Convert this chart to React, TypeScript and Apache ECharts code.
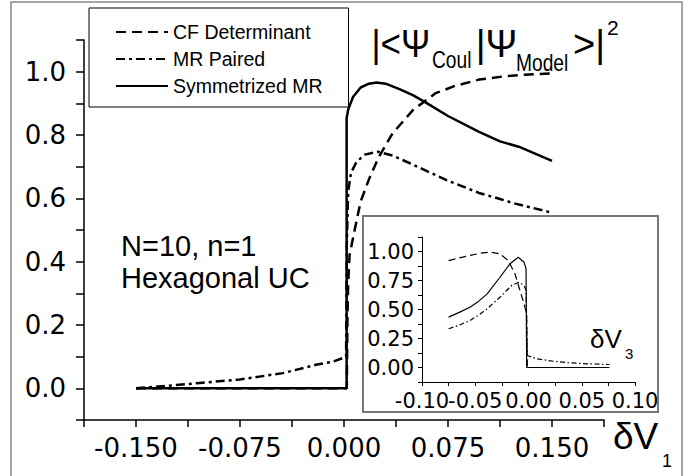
import React, { useEffect, useRef } from "react";
import * as echarts from "echarts";

// Main panel data: [deltaV1, overlap]
const mainCF: number[][] = [
  [-0.15, 0], [0.002, 0], [0.0025, 0.22], [0.003, 0.33], [0.004, 0.42], [0.0072, 0.49],
  [0.012, 0.59], [0.018, 0.66], [0.025, 0.73], [0.035, 0.805], [0.05, 0.88], [0.066, 0.932],
  [0.08, 0.955], [0.0975, 0.975], [0.115, 0.985], [0.13, 0.99], [0.15, 0.995],
];
const mainMR: number[][] = [
  [-0.15, 0], [-0.13, 0.007], [-0.104, 0.017], [-0.075, 0.028], [-0.044, 0.048],
  [-0.0195, 0.075], [-0.0079, 0.084], [-0.0007, 0.096], [0.0015, 0.1], [0.002, 0.45],
  [0.003, 0.62], [0.005, 0.68], [0.009, 0.715], [0.015, 0.738], [0.0245, 0.747],
  [0.035, 0.735], [0.05, 0.706], [0.0736, 0.658], [0.0974, 0.617], [0.1125, 0.598],
  [0.122, 0.585], [0.147, 0.558], [0.15, 0.555],
];
const mainSym: number[][] = [
  [-0.15, 0], [0.0019, 0], [0.0019, 0.854], [0.003, 0.88], [0.0065, 0.92], [0.012, 0.95],
  [0.018, 0.962], [0.0236, 0.966], [0.03, 0.962], [0.04, 0.945], [0.05, 0.925], [0.06, 0.9],
  [0.075, 0.86], [0.0974, 0.81], [0.1125, 0.78], [0.126, 0.763], [0.15, 0.718],
];

// Inset data: [deltaV3, overlap]
const insetCF: number[][] = [
  [-0.075, 0.922], [-0.065, 0.945], [-0.055, 0.966], [-0.045, 0.985], [-0.036, 0.994],
  [-0.027, 0.98], [-0.019, 0.922], [-0.0127, 0.808], [-0.008, 0.664], [-0.0042, 0.549],
  [-0.0017, 0.463], [-0.0011, 0], [0.075, 0],
];
const insetSym: number[][] = [
  [-0.075, 0.434], [-0.065, 0.475], [-0.055, 0.52], [-0.047, 0.57], [-0.0388, 0.635],
  [-0.0268, 0.778], [-0.0174, 0.894], [-0.0096, 0.951], [-0.0042, 0.908], [-0.0023, 0.851],
  [-0.0017, 0], [0.076, 0],
];
const insetMR: number[][] = [
  [-0.075, 0.334], [-0.065, 0.365], [-0.055, 0.405], [-0.047, 0.45], [-0.0388, 0.506],
  [-0.0268, 0.606], [-0.0158, 0.707], [-0.0089, 0.735], [-0.0042, 0.707], [-0.0023, 0.664],
  [-0.0011, 0.103], [0.0077, 0.075], [0.0233, 0.054], [0.039, 0.04], [0.0547, 0.032],
  [0.076, 0.026],
];

const seriesNames = ["CF Determinant", "MR Paired", "Symmetrized MR"];
const mainXTicks = [-0.15, -0.075, 0, 0.075, 0.15];
const mainYTicks = [0, 0.2, 0.4, 0.6, 0.8, 1.0];
const insetXTicks = [-0.1, -0.05, 0, 0.05, 0.1];
const insetYTicks = [0, 0.25, 0.5, 0.75, 1.0];

const near = (list: number[], v: number) => list.some((t) => Math.abs(t - v) < 1e-6);

const TXT = "Liberation Sans";
const AXF = "DejaVu Sans";

function label(text: string, x: number, y: number, size: number, scaleX = 1) {
  return {
    type: "text",
    x,
    y,
    scaleX,
    silent: true,
    style: { text, fontFamily: TXT, fontSize: size, fill: "#000", verticalAlign: "middle", align: "left" },
  };
}

export default function App() {
  const ref = useRef<HTMLDivElement>(null);
  useEffect(() => {
    if (!ref.current) return;
    const chart = echarts.init(ref.current, undefined, { renderer: "svg" });
    const mainAxisCommon = {
      axisLine: { show: true, onZero: false, lineStyle: { color: "#000", width: 1.5 } },
      splitLine: { show: false },
    };
    const insetAxisCommon = {
      axisLine: { show: true, onZero: false, lineStyle: { color: "#000", width: 1 } },
      splitLine: { show: false },
    };
    const option: any = {
      animation: false,
      backgroundColor: "#fff",
      color: ["#000", "#000", "#000", "#000", "#000", "#000"],
      grid: [
        { left: 84, top: 40, width: 520, height: 380 },
        { left: 422, top: 237, width: 213, height: 145 },
      ],
      xAxis: [
        {
          type: "value", gridIndex: 0, min: -0.1875, max: 0.1875, interval: 0.0375,
          ...mainAxisCommon,
          axisTick: { show: true, length: 7, lineStyle: { color: "#000", width: 1.5 } },
          axisLabel: {
            margin: 15, color: "#000", fontFamily: AXF, fontSize: 26,
            formatter: (v: number) => (near(mainXTicks, v) ? (Math.abs(v) < 1e-9 ? "0.000" : v.toFixed(3)) : ""),
          },
        },
        {
          type: "value", gridIndex: 1, min: -0.1, max: 0.1, interval: 0.025,
          ...insetAxisCommon,
          axisTick: { show: true, length: 4, lineStyle: { color: "#000", width: 1 } },
          axisLabel: {
            margin: 8, color: "#000", fontFamily: AXF, fontSize: 21,
            formatter: (v: number) => (near(insetXTicks, v) ? (Math.abs(v) < 1e-9 ? "0.00" : v.toFixed(2)) : ""),
          },
        },
      ],
      yAxis: [
        {
          type: "value", gridIndex: 0, min: -0.1, max: 1.1, interval: 0.1,
          ...mainAxisCommon,
          axisTick: { show: true, length: 8, lineStyle: { color: "#000", width: 1.5 } },
          axisLabel: {
            margin: 18, color: "#000", fontFamily: AXF, fontSize: 26,
            formatter: (v: number) => (near(mainYTicks, v) ? (Math.abs(v) < 1e-9 ? "0.0" : v.toFixed(1)) : ""),
          },
        },
        {
          type: "value", gridIndex: 1, min: -0.125, max: 1.125, interval: 0.125,
          ...insetAxisCommon,
          axisTick: { show: true, length: 4, lineStyle: { color: "#000", width: 1 } },
          axisLabel: {
            margin: 8, color: "#000", fontFamily: AXF, fontSize: 21,
            formatter: (v: number) => (near(insetYTicks, v) ? (Math.abs(v) < 1e-9 ? "0.00" : v.toFixed(2)) : ""),
          },
        },
      ],
      legend: {
        data: seriesNames,
        orient: "vertical",
        left: 89,
        top: 8,
        padding: [14, 26, 11, 26],
        itemGap: 7,
        itemWidth: 52,
        itemHeight: 14,
        borderColor: "#000",
        borderWidth: 1,
        selectedMode: false,
        itemStyle: { opacity: 0 },
        textStyle: { fontFamily: TXT, fontSize: 19.5, color: "#000", lineHeight: 20 },
      },
      series: [
        {
          name: seriesNames[0], type: "line", xAxisIndex: 0, yAxisIndex: 0, data: mainCF,
          symbol: "none", showSymbol: false, z: 3, itemStyle: { color: "#000" },
          lineStyle: { color: "#000", width: 2.5, type: [10, 6] },
        },
        {
          name: seriesNames[1], type: "line", xAxisIndex: 0, yAxisIndex: 0, data: mainMR,
          symbol: "none", showSymbol: false, z: 3, itemStyle: { color: "#000" },
          lineStyle: { color: "#000", width: 2.5, type: [9, 4, 3, 4] },
        },
        {
          name: seriesNames[2], type: "line", xAxisIndex: 0, yAxisIndex: 0, data: mainSym,
          symbol: "none", showSymbol: false, z: 3, itemStyle: { color: "#000" },
          lineStyle: { color: "#000", width: 2.5, type: "solid" },
        },
        {
          name: "inset CF", type: "line", xAxisIndex: 1, yAxisIndex: 1, data: insetCF,
          symbol: "none", showSymbol: false, z: 3,
          lineStyle: { color: "#000", width: 1.2, type: [7, 4] },
        },
        {
          name: "inset MR", type: "line", xAxisIndex: 1, yAxisIndex: 1, data: insetMR,
          symbol: "none", showSymbol: false, z: 3,
          lineStyle: { color: "#000", width: 1.2, type: [5, 2.5, 1.5, 2.5] },
        },
        {
          name: "inset Sym", type: "line", xAxisIndex: 1, yAxisIndex: 1, data: insetSym,
          symbol: "none", showSymbol: false, z: 3,
          lineStyle: { color: "#000", width: 1.2, type: "solid" },
        },
      ],
      graphic: [
        {
          type: "rect", z: -10, silent: true,
          shape: { x: 11, y: 2, width: 671, height: 480 },
          style: { fill: "none", stroke: "#888", lineWidth: 1.5 },
        },
        {
          type: "rect", z: -5, silent: true,
          shape: { x: 363, y: 216, width: 295, height: 196 },
          style: { fill: "#fff", stroke: "#777", lineWidth: 2 },
        },
        label("N=10, n=1", 121, 245.5, 29),
        label("Hexagonal UC", 121, 277.5, 29),
        label("|<Ψ", 371.5, 43.5, 38, 0.92),
        label("Coul", 432, 60, 24, 0.8),
        label("|Ψ", 475.7, 43.5, 38),
        label("Model", 516, 62.5, 24, 0.8),
        label(">|", 573, 43.5, 38),
        label("2", 607, 27.5, 21),
        label("δV", 613, 436.5, 37),
        label("1", 662, 461, 18),
        label("δV", 590, 338.5, 26),
        label("3", 625, 353.5, 15),
      ],
    };
    chart.setOption(option);
    return () => chart.dispose();
  }, []);
  return (
    <div
      ref={ref}
      style={{ position: "fixed", left: 0, top: 0, width: 696, height: 476, background: "#fff" }}
    />
  );
}
